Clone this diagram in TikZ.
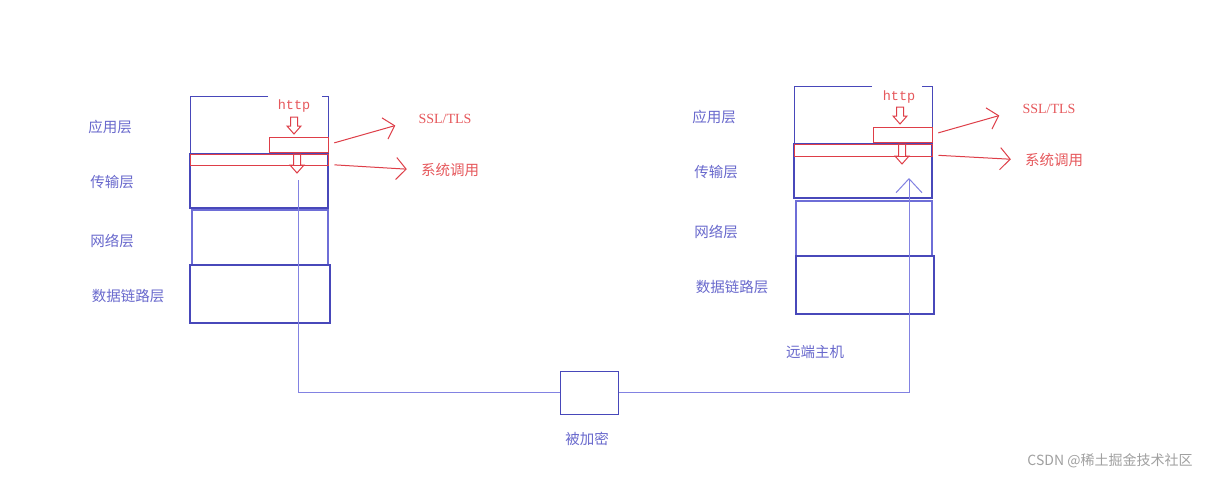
\documentclass[tikz,border=0pt]{standalone}
\usepackage{fontspec}
\setmainfont{Liberation Serif}
\newfontfamily\cjk{Noto Sans CJK SC}
\newfontfamily\codefont{Liberation Mono}
\usepackage{tikz}
\usetikzlibrary{arrows.meta, positioning}
\definecolor{stackblue}{RGB}{72, 72, 186}
\definecolor{netblue}{RGB}{110, 110, 215}
\definecolor{wireblue}{RGB}{130, 130, 226}
\definecolor{labelblue}{RGB}{105, 105, 205}
\definecolor{callred}{RGB}{222, 62, 72}
\definecolor{textred}{RGB}{230, 88, 92}
\definecolor{markgray}{RGB}{160, 160, 160}

% hollow down arrow: x, top y, tip y
\newcommand{\hollowdown}[3]{%
  \draw[callred, line width=1pt, line join=miter]
    (#1-3.5,#2) -- (#1+3.5,#2) -- (#1+3.5,#3-8) -- (#1+7,#3-8) -- (#1,#3)
    -- (#1-7,#3-8) -- (#1-3.5,#3-8) -- cycle;}

\begin{document}
\begin{tikzpicture}[
    x=1pt, y=-1pt,
    layer/.style={draw=stackblue, line width=1.4pt, inner sep=0pt},
    netlayer/.style={draw=netblue, line width=1.1pt, inner sep=0pt},
    redbox/.style={draw=callred, line width=1pt, inner sep=0pt},
    layername/.style={text=labelblue, font=\cjk\fontsize{14.5}{16}\selectfont, inner sep=0pt},
    redname/.style={text=textred, font=\cjk\fontsize{14.5}{16}\selectfont, inner sep=0pt},
    wire/.style={draw=wireblue, line width=1pt},
    callarrow/.style={draw=callred, line width=1pt, -{Straight Barb[length=10pt, width=22pt]}}
]
\useasboundingbox[fill=white] (0,0) rectangle (1210,479);

% Left stack
\node[layer, minimum width=138, minimum height=54] (transL) at (259,181) {};
\node[netlayer, minimum width=136, minimum height=55] (netL) at (260,237.5) {};
\node[layer, minimum width=140, minimum height=58] (linkL) at (260,294) {};
\draw[stackblue, line width=1pt] (268,96) -- (190,96) -- (190,154);
\draw[stackblue, line width=1pt] (322,96) -- (328,96) -- (328,154);
\node[redbox, minimum width=59, minimum height=15] (sslL) at (298.5,144.5) {};
\node[redbox, minimum width=138, minimum height=11] (bandL) at (259,159.5) {};

\node[layername] (appTxtL) at (110,127) {应用层};
\node[layername] (transTxtL) at (112,182) {传输层};
\node[layername] (netTxtL) at (112,241) {网络层};
\node[layername] (linkTxtL) at (128,296) {数据链路层};

\node[text=textred, font=\codefont\fontsize{13.5}{15}\selectfont, inner sep=0pt] (httpL) at (294,106) {http};
\hollowdown{294}{117}{134}
\hollowdown{297}{154}{173}

\node[text=textred, font=\fontsize{14}{16}\selectfont, inner sep=0pt] (sslTxtL) at (445,119) {SSL/TLS};
\node[redname] (callTxtL) at (450,170) {系统调用};
\draw[callarrow, shorten <=6pt, shorten >=24pt] (sslL.east) -- (sslTxtL.west);
\draw[callarrow, shorten <=6pt, shorten >=14pt] ([yshift=-5pt]bandL.east) -- (callTxtL.west);

% Right stack
\node[layer, minimum width=138, minimum height=54] (transR) at (863,171) {};
\node[netlayer, minimum width=136, minimum height=55] (netR) at (864,228.5) {};
\node[layer, minimum width=138, minimum height=58] (linkR) at (865,285) {};
\draw[stackblue, line width=1pt] (872,86) -- (794,86) -- (794,144);
\draw[stackblue, line width=1pt] (922,86) -- (932,86) -- (932,144);
\node[redbox, minimum width=59, minimum height=15] (sslR) at (902.5,134.5) {};
\node[redbox, minimum width=138, minimum height=12] (bandR) at (863,150) {};

\node[layername] (appTxtR) at (714,117) {应用层};
\node[layername] (transTxtR) at (716,172) {传输层};
\node[layername] (netTxtR) at (716,232) {网络层};
\node[layername] (linkTxtR) at (732,287) {数据链路层};

\node[text=textred, font=\codefont\fontsize{13.5}{15}\selectfont, inner sep=0pt] (httpR) at (899,97) {http};
\hollowdown{900}{107}{124}
\hollowdown{902}{144}{164}

\node[text=textred, font=\fontsize{14}{16}\selectfont, inner sep=0pt] (sslTxtR) at (1049,109) {SSL/TLS};
\node[redname] (callTxtR) at (1054,160) {系统调用};
\draw[callarrow, shorten <=6pt, shorten >=24pt] (sslR.east) -- (sslTxtR.west);
\draw[callarrow, shorten <=6pt, shorten >=14pt] ([yshift=-5pt]bandR.east) -- (callTxtR.west);

\node[layername] (hostTxt) at (815,352) {远端主机};

% Link between hosts
\coordinate (wireL) at (298,180);
\coordinate (tipR) at (909,178);
\node[draw=stackblue, line width=1pt, minimum width=58, minimum height=43, inner sep=0pt] (crypt) at (589,392.5) {};
\node[layername] (cryptTxt) at (587,439) {被加密};
\draw[wire] (wireL) |- (crypt.west);
\draw[wire, -{Straight Barb[length=14pt, width=26pt]}] (crypt.east) -| (tipR);

\node[text=markgray, font=\cjk\fontsize{14}{16}\selectfont, inner sep=0pt] (mark) at (1110,461) {CSDN @稀土掘金技术社区};

\end{tikzpicture}
\end{document}
